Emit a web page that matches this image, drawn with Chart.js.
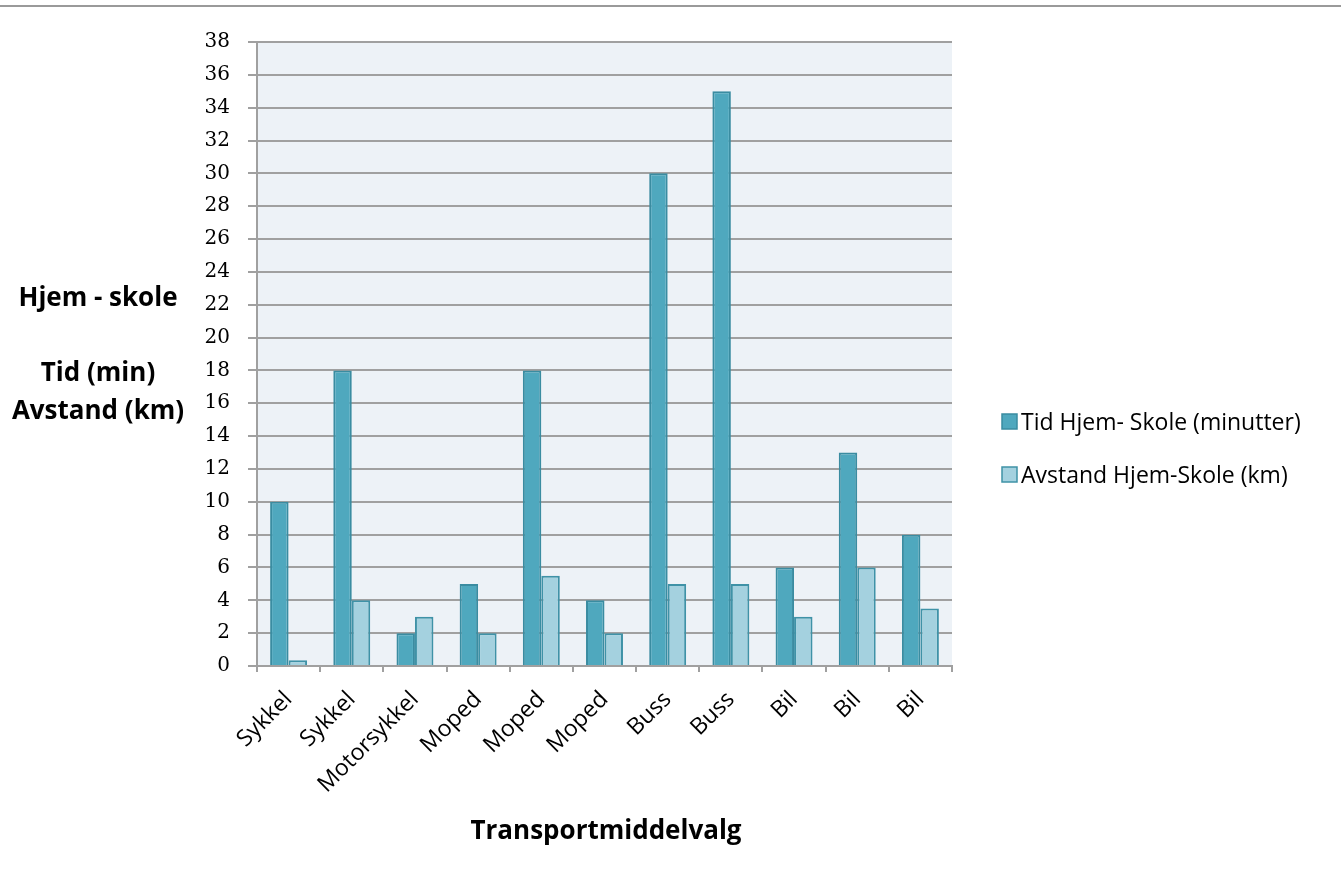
<!DOCTYPE html>
<html lang="no">
<head>
  <meta charset="UTF-8" />
  <title>Transportmiddelvalg</title>
  <script src="https://cdn.jsdelivr.net/npm/chart.js"></script>
  <style>
    html, body {
      margin: 0;
      padding: 0;
      background: #fff;
    }
    #wrap {
      position: relative;
      width: 1341px;
      height: 881px;
    }
  </style>
</head>
<body>
  <div id="wrap">
    <canvas id="grafTransport"></canvas>
  </div>

  <script>
    // Data
    const transportmidler = ['Sykkel', 'Sykkel', 'Motorsykkel', 'Moped', 'Moped', 'Moped', 'Buss', 'Buss', 'Bil', 'Bil', 'Bil'];
    const tidMinutter = [10, 18, 2, 5, 18, 4, 30, 35, 6, 13, 8];
    const avstandKm = [0.35, 4, 3, 2, 5.5, 2, 5, 5, 3, 6, 3.5];
    const serieNavn = ['Tid Hjem- Skole (minutter)', 'Avstand Hjem-Skole (km)'];
    const yTittel = ['Hjem - skole', '', 'Tid (min)', 'Avstand (km)'];
    const xTittel = 'Transportmiddelvalg';

    const farger = [
      { fyll: '#4fa8be', kant: '#3a8ca1' },
      { fyll: '#a4d1df', kant: '#3f92a7' }
    ];

    const grid = '#a0a0a0';

    // bakgrunn, aksetitler og forklaring tegnes her
    const ekstra = {
      id: 'ekstra',
      beforeDraw(chart) {
        const ctx = chart.ctx;
        const a = chart.chartArea;
        ctx.save();
        ctx.fillStyle = '#edf2f7';
        ctx.fillRect(a.left, a.top, a.right - a.left, a.bottom - a.top);
        ctx.restore();
      },
      afterDraw(chart) {
        const ctx = chart.ctx;
        ctx.save();
        // linje øverst
        ctx.fillStyle = '#9a9a9a';
        ctx.fillRect(0, 5, chart.width, 2);

        ctx.fillStyle = '#000';
        ctx.font = 'bold 26px "Open Sans", sans-serif';
        ctx.textAlign = 'center';
        ctx.textBaseline = 'middle';
        yTittel.forEach((t, i) => {
          if (t) ctx.fillText(t, 98, 299 + i * 37.5);
        });
        ctx.fillText(xTittel, 606, 832);

        // forklaring
        ctx.font = '23px "Open Sans", sans-serif';
        ctx.textAlign = 'left';
        chart.data.datasets.forEach((ds, i) => {
          const y = 421 + i * 53;
          ctx.fillStyle = ds.backgroundColor;
          ctx.fillRect(1002, y - 7, 15, 15);
          ctx.strokeStyle = ds.borderColor;
          ctx.lineWidth = 1.5;
          ctx.strokeRect(1002, y - 7, 15, 15);
          ctx.fillStyle = '#000';
          ctx.fillText(ds.label, 1021, y + 2);
        });
        ctx.restore();
      }
    };

    const ctx = document.getElementById('grafTransport').getContext('2d');
    new Chart(ctx, {
      type: 'bar',
      data: {
        labels: transportmidler,
        datasets: [
          {
            label: serieNavn[0],
            data: tidMinutter,
            backgroundColor: farger[0].fyll,
            borderColor: farger[0].kant,
            borderWidth: 2
          },
          {
            label: serieNavn[1],
            data: avstandKm,
            backgroundColor: farger[1].fyll,
            borderColor: farger[1].kant,
            borderWidth: 2
          }
        ]
      },
      options: {
        responsive: true,
        maintainAspectRatio: false,
        animation: false,
        layout: {
          padding: { left: 0, top: 42, right: 389, bottom: 0 }
        },
        datasets: {
          bar: {
            categoryPercentage: 0.585,
            barPercentage: 1
          }
        },
        scales: {
          x: {
            afterFit: s => { s.height = 215; },
            border: { color: grid, width: 2 },
            grid: {
              offset: true,
              drawOnChartArea: false,
              drawTicks: true,
              tickLength: 6,
              color: grid,
              lineWidth: 2
            },
            ticks: {
              maxRotation: 45,
              minRotation: 45,
              autoSkip: false,
              color: '#000',
              padding: 14,
              font: { family: '"Open Sans", sans-serif', size: 23 }
            }
          },
          y: {
            min: 0,
            max: 38,
            afterFit: s => { s.width = 257; },
            border: { color: grid, width: 2 },
            grid: {
              color: grid,
              lineWidth: 2,
              tickLength: 9
            },
            ticks: {
              stepSize: 2,
              autoSkip: false,
              color: '#000',
              padding: 18,
              font: { family: '"DejaVu Serif", serif', size: 20 }
            }
          }
        },
        plugins: {
          legend: { display: false },
          tooltip: { enabled: false }
        }
      },
      plugins: [ekstra]
    });
  </script>
</body>
</html>
